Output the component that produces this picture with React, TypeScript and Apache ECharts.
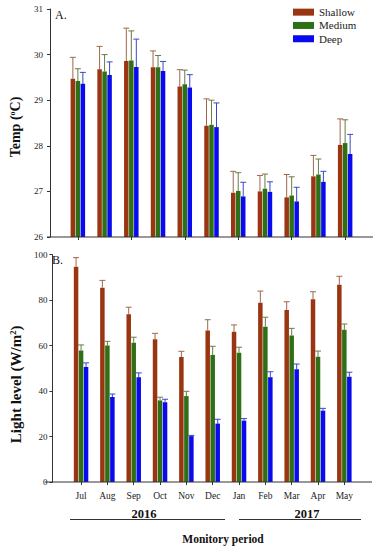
import React, { useEffect, useRef } from 'react';
import * as echarts from 'echarts';

const months = ['Jul', 'Aug', 'Sep', 'Oct', 'Nov', 'Dec', 'Jan', 'Feb', 'Mar', 'Apr', 'May'];
const levels = ['Shallow', 'Medium', 'Deep'];
const yearLabels = ['2016', '2017'];

// Panel A: temperature (°C), means and upper error
const tempShallow = [29.47, 29.68, 29.86, 29.72, 29.3, 28.44, 26.97, 27.0, 26.87, 27.33, 28.02];
const tempShallowErr = [0.47, 0.5, 0.72, 0.36, 0.37, 0.59, 0.47, 0.35, 0.5, 0.46, 0.57];
const tempMedium = [29.42, 29.63, 29.87, 29.72, 29.35, 28.46, 27.01, 27.06, 26.91, 27.37, 28.06];
const tempMediumErr = [0.27, 0.37, 0.65, 0.26, 0.31, 0.54, 0.4, 0.32, 0.41, 0.34, 0.51];
const tempDeep = [29.36, 29.55, 29.73, 29.64, 29.28, 28.41, 26.89, 26.99, 26.78, 27.21, 27.82];
const tempDeepErr = [0.25, 0.29, 0.61, 0.21, 0.28, 0.53, 0.31, 0.22, 0.31, 0.23, 0.43];

// Panel B: light level (W/m2), means and upper error
const lightShallow = [94.7, 85.5, 73.8, 62.8, 55.0, 66.7, 66.1, 78.9, 75.7, 80.4, 86.8];
const lightShallowErr = [4.0, 3.2, 3.1, 2.6, 2.5, 4.7, 3.0, 5.1, 3.6, 3.3, 3.7];
const lightMedium = [57.9, 60.0, 61.3, 35.9, 37.8, 55.9, 56.9, 68.3, 64.5, 55.1, 67.0];
const lightMediumErr = [2.4, 1.9, 2.4, 1.4, 2.1, 3.8, 2.4, 4.2, 3.1, 2.5, 2.5];
const lightDeep = [50.6, 37.4, 46.1, 35.1, 20.2, 25.7, 27.0, 46.1, 49.6, 31.4, 46.3];
const lightDeepErr = [1.8, 1.3, 1.9, 1.3, 0.3, 1.9, 0.9, 2.4, 2.3, 1.0, 2.0];

const barColors = ['#9a3512', '#2e7016', '#0a0aee'];
const errColors = ['#a0674a', '#6a7a45', '#3848c8'];
const SERIF = "'Liberation Serif', 'DejaVu Serif', serif";
const AXIS = '#333';

export default function App() {
  const ref = useRef<HTMLDivElement>(null);

  useEffect(() => {
    const chart = echarts.init(ref.current!, null, { renderer: 'svg' });
    const offsets = [-5, 0, 5];

    const barSeries = (name: string, vals: number[], idx: number, panel: number) => ({
      type: 'bar',
      name,
      xAxisIndex: panel,
      yAxisIndex: panel,
      data: vals,
      barWidth: 4.5,
      barGap: '11%',
      itemStyle: { color: barColors[idx] },
      z: 2,
    });

    const errSeries = (name: string, vals: number[], errs: number[], idx: number, panel: number) => ({
      type: 'custom',
      name: name + ' err',
      xAxisIndex: panel,
      yAxisIndex: panel,
      silent: true,
      z: 3,
      data: vals.map((v, i) => [i, v, errs[i]]),
      encode: { x: 0, y: 1 },
      renderItem: (_params: any, api: any) => {
        const i = api.value(0);
        const v = api.value(1);
        const e = api.value(2);
        const p0 = api.coord([i, v]);
        const p1 = api.coord([i, v + e]);
        const x = p0[0] + offsets[idx];
        const style = { stroke: errColors[idx], lineWidth: 1 };
        return {
          type: 'group',
          children: [
            { type: 'line', shape: { x1: x, y1: p0[1], x2: x, y2: p1[1] }, style },
            { type: 'line', shape: { x1: x - 3, y1: p1[1], x2: x + 3, y2: p1[1] }, style },
          ],
        };
      },
    });

    const nameStyleBase = {
      fontFamily: SERIF,
      fontWeight: 'bold',
      color: '#111',
    };

    const option: any = {
      animation: false,
      grid: [
        { left: 61.5, top: 9, width: 297, height: 228 },
        { left: 60.5, top: 254.7, width: 297, height: 227.3 },
      ],
      legend: {
        data: levels,
        orient: 'vertical',
        left: 293,
        top: 6,
        padding: 0,
        itemWidth: 21,
        itemHeight: 7,
        itemGap: 1,
        icon: 'rect',
        textStyle: { fontFamily: SERIF, fontSize: 11, lineHeight: 12.3, color: '#222' },
      },
      xAxis: [
        {
          type: 'category',
          gridIndex: 0,
          data: months,
          axisLine: { show: false },
          axisTick: { show: true, alignWithLabel: true, length: 3, lineStyle: { color: AXIS } },
          axisLabel: { show: false },
        },
        {
          type: 'category',
          gridIndex: 1,
          data: months,
          axisLine: { show: false },
          axisTick: { show: true, alignWithLabel: true, length: 3, lineStyle: { color: AXIS } },
          axisLabel: { fontFamily: SERIF, fontSize: 9.5, color: '#222', margin: 9 },
        },
      ],
      yAxis: [
        {
          type: 'value',
          gridIndex: 0,
          min: 26,
          max: 31,
          interval: 1,
          offset: 14.5,
          splitLine: { show: false },
          axisLine: { show: true, lineStyle: { color: AXIS } },
          axisTick: { show: true, length: 3, lineStyle: { color: AXIS } },
          axisLabel: { fontFamily: SERIF, fontSize: 9, color: '#222', margin: 7 },
          name: 'Temp ({sup|o}C)',
          nameLocation: 'middle',
          nameGap: 28,
          nameTextStyle: {
            ...nameStyleBase,
            fontSize: 14,
            padding: [0, 8, 0, 0],
            rich: { sup: { fontFamily: SERIF, fontWeight: 'bold', fontSize: 8, verticalAlign: 'top', color: '#111' } },
          },
        },
        {
          type: 'value',
          gridIndex: 1,
          min: 0,
          max: 100,
          interval: 20,
          offset: 15.5,
          splitLine: { show: false },
          axisLine: { show: true, lineStyle: { color: AXIS } },
          axisTick: { show: true, length: 3, lineStyle: { color: AXIS } },
          axisLabel: { fontFamily: SERIF, fontSize: 9, color: '#222', margin: 5 },
          name: 'Light level (W/m{sup|2})',
          nameLocation: 'middle',
          nameGap: 24,
          nameTextStyle: {
            ...nameStyleBase,
            fontSize: 15,
            padding: [0, 32, 0, 0],
            rich: { sup: { fontFamily: SERIF, fontWeight: 'bold', fontSize: 8.5, verticalAlign: 'top', color: '#111' } },
          },
        },
      ],
      series: [
        barSeries(levels[0], tempShallow, 0, 0),
        barSeries(levels[1], tempMedium, 1, 0),
        barSeries(levels[2], tempDeep, 2, 0),
        errSeries(levels[0], tempShallow, tempShallowErr, 0, 0),
        errSeries(levels[1], tempMedium, tempMediumErr, 1, 0),
        errSeries(levels[2], tempDeep, tempDeepErr, 2, 0),
        barSeries(levels[0], lightShallow, 0, 1),
        barSeries(levels[1], lightMedium, 1, 1),
        barSeries(levels[2], lightDeep, 2, 1),
        errSeries(levels[0], lightShallow, lightShallowErr, 0, 1),
        errSeries(levels[1], lightMedium, lightMediumErr, 1, 1),
        errSeries(levels[2], lightDeep, lightDeepErr, 2, 1),
      ],
      graphic: [
        { type: 'line', shape: { x1: 47, y1: 237, x2: 373, y2: 237 }, style: { stroke: AXIS, lineWidth: 1 }, z: 10 },
        { type: 'line', shape: { x1: 45, y1: 482, x2: 372, y2: 482 }, style: { stroke: AXIS, lineWidth: 1 }, z: 10 },
        { type: 'text', x: 55, y: 15, style: { text: 'A.', fontFamily: SERIF, fontSize: 12, fill: '#111', align: 'left', verticalAlign: 'middle' } },
        { type: 'text', x: 52, y: 260, style: { text: 'B.', fontFamily: SERIF, fontSize: 12, fill: '#111', align: 'left', verticalAlign: 'middle' } },
        { type: 'text', x: 144, y: 514, style: { text: yearLabels[0], fontFamily: SERIF, fontSize: 12.5, fontWeight: 'bold', fill: '#111', align: 'center', verticalAlign: 'middle' } },
        { type: 'text', x: 307, y: 514, style: { text: yearLabels[1], fontFamily: SERIF, fontSize: 12.5, fontWeight: 'bold', fill: '#111', align: 'center', verticalAlign: 'middle' } },
        { type: 'line', shape: { x1: 70, y1: 519.5, x2: 225, y2: 519.5 }, style: { stroke: AXIS, lineWidth: 1 } },
        { type: 'line', shape: { x1: 239, y1: 519.5, x2: 361, y2: 519.5 }, style: { stroke: AXIS, lineWidth: 1 } },
        { type: 'text', x: 223, y: 539, style: { text: 'Monitory period', fontFamily: SERIF, fontSize: 11.5, fontWeight: 'bold', fill: '#111', align: 'center', verticalAlign: 'middle' } },
      ],
    };

    chart.setOption(option);
    return () => chart.dispose();
  }, []);

  return (
    <div
      ref={ref}
      style={{ position: 'absolute', left: 0, top: 0, width: 378, height: 550, background: '#fff' }}
    />
  );
}
